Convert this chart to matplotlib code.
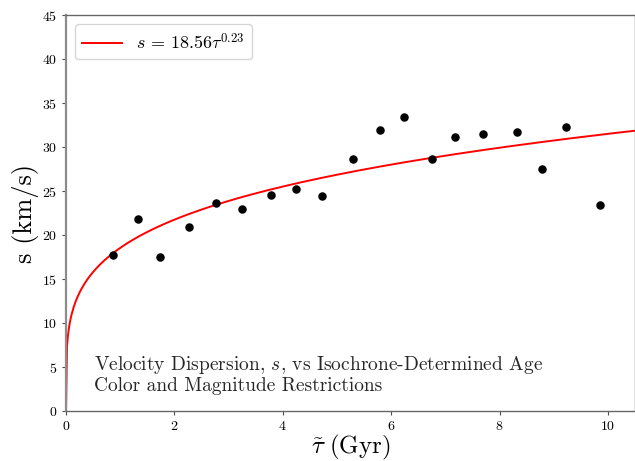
import numpy as np
import matplotlib
matplotlib.use("Agg")
import matplotlib.pyplot as plt

# data
age = [0.86, 1.32, 1.73, 2.26, 2.76, 3.25, 3.78, 4.24, 4.72, 5.29, 5.79, 6.24,
       6.76, 7.18, 7.70, 8.32, 8.78, 9.23, 9.85]
disp = [17.7, 21.8, 17.5, 20.9, 23.7, 23.0, 24.6, 25.3, 24.5, 28.7, 32.0, 33.4,
        28.7, 31.2, 31.5, 31.7, 27.5, 32.3, 23.4]

# power law fit s = A * tau^B
fit_a = 18.56
fit_b = 0.23

plt.rcParams['font.family'] = ['cmr10', 'DejaVu Serif']
plt.rcParams['mathtext.fontset'] = 'cm'
plt.rcParams['axes.formatter.use_mathtext'] = True

fig = plt.figure(figsize=(6.35, 4.61), dpi=100)
ax = fig.add_axes([0.104, 0.108, 0.896, 0.859])

tt = np.linspace(0, 10.5, 600)
ax.plot(tt, fit_a * tt ** fit_b, color='red', lw=1.4,
        label=r'$s\,=\,%.2f\tau^{%.2f}$' % (fit_a, fit_b))
ax.scatter(age, disp, s=26, color='black', zorder=3)

ax.set_xlim(0, 10.5)
ax.set_ylim(0, 45)
ax.set_xticks([0, 2, 4, 6, 8, 10])
ax.set_yticks(range(0, 50, 5))
ax.tick_params(labelsize=10, length=3, color='0.3')

for sp in ax.spines.values():
    sp.set_color('0.4')
    sp.set_linewidth(1.0)
ax.spines['left'].set_color('0.55')
ax.spines['left'].set_linewidth(1.6)

ax.set_xlabel(r'$\tilde{\tau}\ \mathrm{(Gyr)}$', fontsize=18, labelpad=0)
ax.set_ylabel('s (km/s)', fontsize=19, labelpad=2)

ax.text(0.52, 4.7, r'Velocity Dispersion, $s$, vs Isochrone-Determined Age',
        fontsize=14, color='0.15')
ax.text(0.52, 2.3, 'Color and Magnitude Restrictions', fontsize=14, color='0.15')

leg = ax.legend(loc='upper left', fontsize=13, handlelength=2.2, borderpad=0.4)
leg.get_frame().set_edgecolor('0.8')

fig.savefig('out.png', dpi=100)
